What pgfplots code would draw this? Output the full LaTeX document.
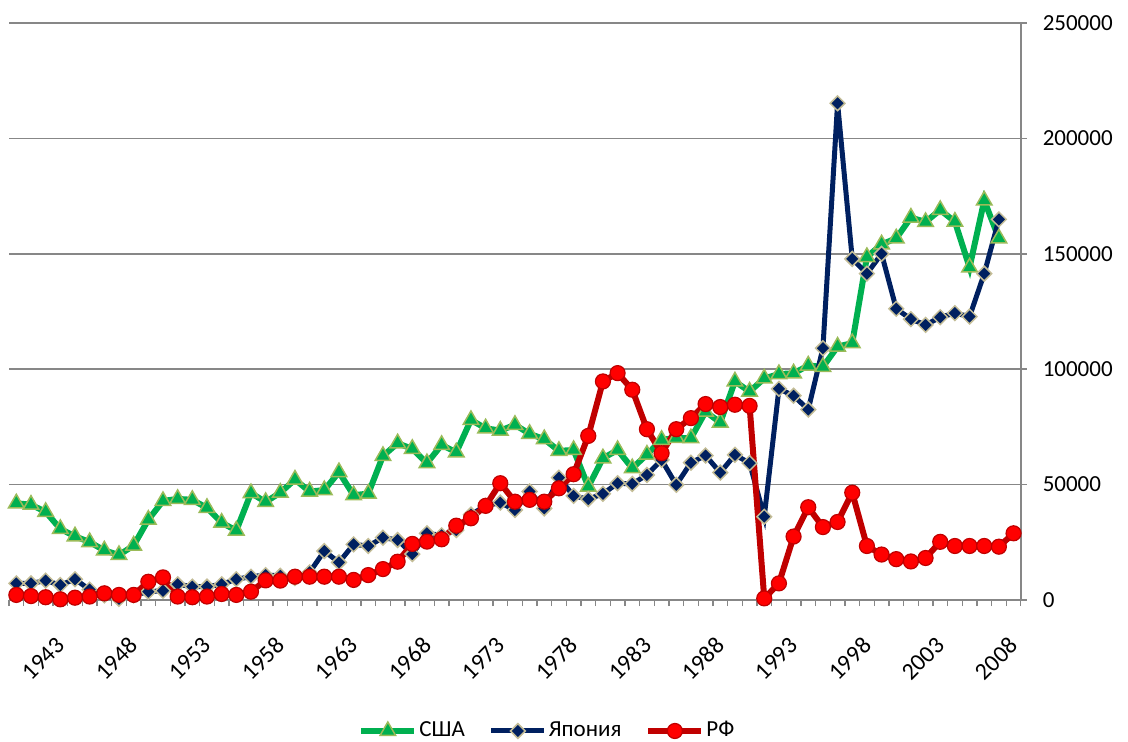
\documentclass[border=0pt]{standalone}
\usepackage{pgfplots}
\pgfplotsset{compat=1.18}
\usepackage{pgfplotstable}
\usepackage{fontspec}
\setmainfont{Carlito}

\definecolor{usagreen}{HTML}{00B050}
\definecolor{usaedge}{HTML}{9BBB59}
\definecolor{japnavy}{HTML}{002060}
\definecolor{japedge}{HTML}{C4BD97}
\definecolor{rfline}{HTML}{C00000}
\definecolor{rffill}{HTML}{FF0000}
\definecolor{axgray}{HTML}{878787}

% year value
\pgfplotstableread{
year usa
1940 41900
1941 41300
1942 38200
1943 30800
1944 27600
1945 25100
1946 21500
1947 19500
1948 23600
1949 34800
1950 42900
1951 43800
1952 43400
1953 39900
1954 33500
1955 30100
1956 46300
1957 42500
1958 46500
1959 52200
1960 47000
1961 47600
1962 55400
1963 45400
1964 46100
1965 62400
1966 67900
1967 65500
1968 59300
1969 67200
1970 64000
1971 78000
1972 74400
1973 73400
1974 75900
1975 72000
1976 69700
1977 64600
1978 65000
1979 49100
1980 61400
1981 65000
1982 57100
1983 63000
1984 69400
1985 70200
1986 70100
1987 81600
1988 76900
1989 94700
1990 90300
1991 96000
1992 97900
1993 98200
1994 101600
1995 101000
1996 109800
1997 111300
1998 148600
1999 154100
2000 156700
2001 165700
2002 163800
2003 169000
2004 163900
2005 144100
2006 173100
2007 156700
}\usa

\pgfplotstableread{
year jap
1940 7200
1941 7200
1942 8400
1943 6500
1944 9000
1945 4500
1946 2000
1947 500
1948 2000
1949 3600
1950 4000
1951 6800
1952 5800
1953 5800
1954 6800
1955 9000
1956 10100
1957 10800
1958 10500
1959 9500
1960 12000
1961 21200
1962 16300
1963 24100
1964 23400
1965 27000
1966 26000
1967 19900
1968 28900
1969 28000
1970 30300
1971 37000
1972 40800
1973 42200
1974 39000
1975 47000
1976 39700
1977 53000
1978 45100
1979 43700
1980 46000
1981 50600
1982 50300
1983 54200
1984 60700
1985 49900
1986 59500
1987 62600
1988 55200
1989 62900
1990 59300
1991 36100
1992 91500
1993 88500
1994 82500
1995 109100
1996 215200
1997 147800
1998 141400
1999 150000
2000 126200
2001 121700
2002 119200
2003 122500
2004 124300
2005 122800
2006 141400
2007 164900
}\jap

\pgfplotstableread{
year rf
1940 2200
1941 1700
1942 1200
1943 300
1944 1000
1945 1500
1946 2900
1947 2200
1948 2200
1949 7900
1950 9800
1951 1500
1952 1200
1953 1500
1954 2600
1955 2200
1956 3600
1957 8500
1958 8400
1959 10100
1960 10100
1961 10100
1962 10100
1963 8700
1964 10800
1965 13400
1966 16600
1967 24300
1968 25300
1969 26300
1970 32200
1971 35400
1972 40800
1973 50600
1974 42600
1975 43400
1976 42600
1977 48400
1978 54500
1979 71100
1980 94700
1981 98300
1982 91100
1983 74000
1984 63600
1985 74000
1986 78800
1987 84900
1988 83600
1989 84600
1990 84100
1991 700
1992 7200
1993 27500
1994 40200
1995 31600
1996 33800
1997 46500
1998 23400
1999 19700
2000 17700
2001 16700
2002 18200
2003 25200
2004 23400
2005 23400
2006 23400
2007 23100
2008 28900
}\rf

\begin{document}
\fontsize{23bp}{27bp}\selectfont
\begin{tikzpicture}
\path[use as bounding box] (0,0) rectangle (1128bp,742bp);
\begin{axis}[
    at={(9bp,142bp)}, anchor=south west,
    scale only axis,
    width=1012bp, height=577bp,
    xmin=1939.5, xmax=2008.5,
    ymin=0, ymax=250000,
    clip=false,
    axis x line*=bottom,
    axis y line*=right,
    axis line style={axgray, line width=1.5bp},
    ymajorgrids,
    grid style={axgray, line width=1.5bp},
    xtick={1943,1948,...,2008},
    minor xtick={1939.5,1940.5,...,2008.5},
    ytick={0,50000,...,250000},
    major x tick style={draw=none},
    minor x tick style={axgray, line width=1.2bp},
    minor tick length=6bp,
    major tick length=12bp,
    ytick style={axgray, line width=1.5bp},
    ytick align=center,
    xtick align=outside,
    scaled ticks=false,
    /pgf/number format/fixed,
    /pgf/number format/precision=0,
    /pgf/number format/1000 sep={},
    /pgf/number format/assume math mode=true,
    ticklabel style={font=\fontsize{24bp}{28bp}\selectfont, text=black},
    xticklabel style={rotate=45, anchor=east, xshift=-13bp, yshift=-21bp},
    yticklabel style={anchor=west, xshift=8bp, font=\fontsize{23bp}{27bp}\selectfont},
    legend style={at={(0.532,-0.227)}, anchor=center, draw=none, fill=none,
        legend columns=3, font=\fontsize{23bp}{27bp}\selectfont,
        /tikz/every even column/.append style={column sep=22bp},
        nodes={inner sep=2bp}},
    legend image code/.code={
        \draw[mark repeat=2,mark phase=2,#1] plot coordinates {(0bp,0bp) (26.5bp,0bp) (53bp,0bp)};
    },
]
\addplot[usagreen, line width=6bp, mark=triangle*, mark size=9bp,
    mark options={fill=usagreen, draw=usaedge, line width=1.5bp}] table[x=year,y=usa] {\usa};
\addplot[japnavy, line width=5bp, mark=square*, mark size=5.2bp,
    mark options={fill=japnavy, draw=japedge, line width=1.5bp, rotate=45}] table[x=year,y=jap] {\jap};
\addplot[rfline, line width=6bp, mark=*, mark size=7.5bp,
    mark options={fill=rffill, draw=rfline, line width=1.2bp}] table[x=year,y=rf] {\rf};
\legend{США, Япония, РФ}
\end{axis}
\end{tikzpicture}
\end{document}
